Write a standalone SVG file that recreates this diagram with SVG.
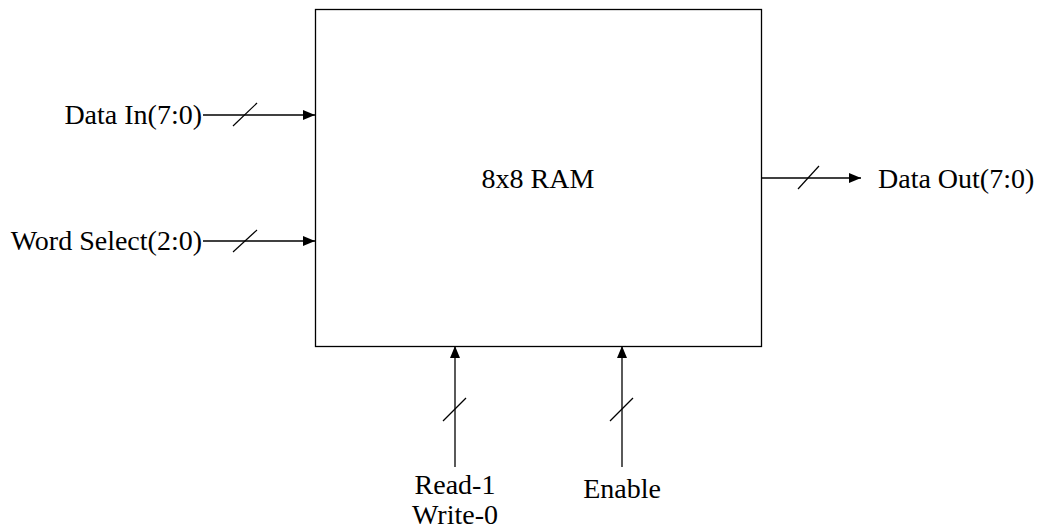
<svg xmlns="http://www.w3.org/2000/svg" width="1037" height="529" viewBox="0 0 1037 529">
<defs>
<marker id="ah" viewBox="0 0 12 10" refX="12" refY="5" markerWidth="12" markerHeight="10" markerUnits="userSpaceOnUse" orient="auto"><path d="M0,0 L12,5 L0,10 Z" fill="#000"/></marker>
<style>
.t{font-family:"Liberation Serif","Times New Roman",serif;font-size:28px;fill:#000}
.w{stroke:#000;stroke-width:1.3;fill:none}
.s{stroke:#000;stroke-width:1.2}
</style>
</defs>
<rect width="1037" height="529" fill="#fff"/>
<g id="ram">
<rect x="315.5" y="9.5" width="446" height="337" fill="#fff" stroke="#000" stroke-width="1.3"/>
<text class="t" x="538" y="188" text-anchor="middle">8x8 RAM</text>
</g>
<g id="data-in"><text class="t" x="202" y="124" text-anchor="end">Data In(7:0)</text></g>
<g id="word-select"><text class="t" x="202" y="250" text-anchor="end">Word Select(2:0)</text></g>
<g id="data-out"><text class="t" x="878" y="188">Data Out(7:0)</text></g>
<g id="read-write"><text class="t" x="455" y="494" text-anchor="middle">Read-1</text><text class="t" x="455" y="524" text-anchor="middle">Write-0</text></g>
<g id="enable"><text class="t" x="622" y="498" text-anchor="middle">Enable</text></g>
<g id="connectors">
<line class="w" x1="203" y1="115" x2="315" y2="115" marker-end="url(#ah)"/>
<line class="s" x1="233" y1="126" x2="257" y2="103"/>
<line class="w" x1="203" y1="241" x2="315" y2="241" marker-end="url(#ah)"/>
<line class="s" x1="233" y1="252" x2="257" y2="230"/>
<line class="w" x1="761" y1="178" x2="861" y2="178" marker-end="url(#ah)"/>
<line class="s" x1="798" y1="189" x2="819" y2="166"/>
<line class="w" x1="455" y1="467" x2="455" y2="346" marker-end="url(#ah)"/>
<line class="s" x1="443" y1="421" x2="466" y2="398"/>
<line class="w" x1="622" y1="467" x2="622" y2="346" marker-end="url(#ah)"/>
<line class="s" x1="610" y1="421" x2="633" y2="398"/>
</g>
</svg>
